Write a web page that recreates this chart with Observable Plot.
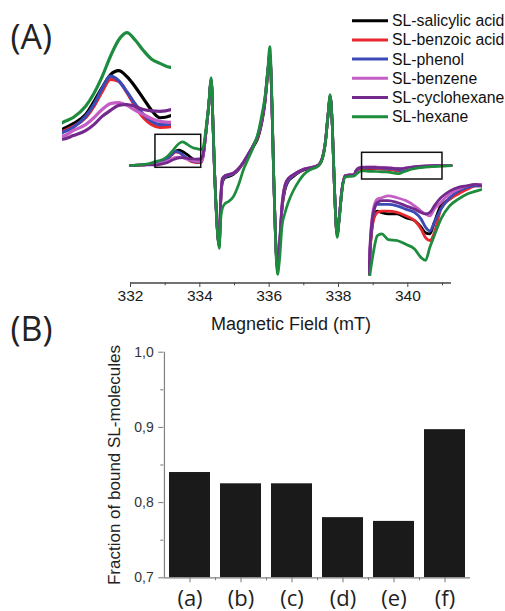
<!DOCTYPE html>
<html><head><meta charset="utf-8">
<script src="https://cdn.jsdelivr.net/npm/d3@7"></script>
<script src="https://cdn.jsdelivr.net/npm/@observablehq/plot@0.6"></script>
<style>
html,body{margin:0;padding:0;background:#fff;}
#root{position:relative;width:505px;height:611px;overflow:hidden;background:#fff;}
#root svg{position:absolute;left:0;}
.panel{position:absolute;font-family:"Open Sans",sans-serif;font-size:34px;line-height:34px;color:#222;white-space:nowrap;}
</style></head><body><div id="root"></div>
<script>
// ---------- Panel A data (EPR spectra, arbitrary intensity units) ----------
const seriesNames = ["SL-salicylic acid","SL-benzoic acid","SL-phenol","SL-benzene","SL-cyclohexane","SL-hexane"];
const seriesColors = ["#000000","#e8282c","#3a4ab6","#c45ec4","#742a8c","#1e8c3e"];
const field = [332.0,332.3,332.55,332.72,332.85,333.0,333.1,333.2,333.3,333.4,333.5,333.6,333.7,333.8,333.9,334.04,334.1,334.17,334.25,334.33,334.38,334.42,334.46,334.52,334.56,334.6,334.65,334.73,334.83,334.97,335.12,335.26,335.4,335.55,335.69,335.79,335.88,335.96,336.02,336.08,336.13,336.18,336.24,336.3,336.37,336.46,336.55,336.7,336.85,337.0,337.2,337.4,337.53,337.62,337.7,337.76,337.82,337.88,337.96,338.03,338.1,338.2,338.3,338.45,338.5,338.56,338.65,338.75,338.9,339.1,339.3,339.5,339.65,339.75,339.85,339.95,340.1,340.3,340.5,340.7,340.9,341.05,341.25];
const salicylic = [-1,-0.5,0, 1.5,2.7,4.7,7.5,10.6,13.4,14.3,13.0,10.8,8.2,5.6,4.0,4.5, 10,30,56,84,40,-3,-36,-72,-82,-40,-18,-13,-12,-10,-5,2,10,18,28,42,62,90,110,60,-10,-70,-104,-82,-45,-25,-17,-12,-8,-5.5,-3.5,-1.5,6,22,50,68,40,-20,-70,-50,-25,-11,-10.5, -10.5,-7.0,-4.75,-3.9,-4.05,-4.2,-4.2,-4.6,-4.9,-5.6,-6.2,-6.3,-5.1,-3.35,-2.65,-1.95,-1.4,-1.1,-1.25, -1];
const benzoic = [-1,-0.5,0, 1.0,2.1,4.0,6.5,9.7,12.4,12.0,9.5,6.5,4.0,2.5,1.9,2.1, 9,30,56,85,40,-3,-36,-72,-82,-40,-17,-12,-11,-9,-4.5,2,10,19,29,43,63,92,111,60,-10,-70,-105,-82,-44,-23,-16,-11,-7.5,-5,-3.2,-1.3,6,22,50,69,40,-20,-71,-50,-25,-11,-10.5, -10.5,-7.2,-4.9,-4.05,-3.9,-3.9,-4.05,-4.4,-4.9,-5.8,-6.7,-7.0,-6.2,-3.7,-2.65,-2.1,-1.6,-1.25,-1.25, -1];
const phenol = [-1,-0.5,0, 0.8,1.9,4.3,6.9,10.4,13.1,12.1,9.7,7.0,4.7,3.2,2.5,2.6, 9,30,56,85,40,-3,-36,-72,-82,-38,-16,-12,-11,-9,-4.5,2.5,10.5,19.5,30,44,64,93,113,60,-10,-70,-105,-81,-43,-23,-16,-11,-7.5,-5,-3.2,-1.3,6,22,50,69,40,-20,-71,-50,-25,-11,-10.5, -10.5,-6.9,-4.2,-3.2,-3.2,-3.2,-3.35,-3.7,-4.05,-4.75,-5.6,-6.0,-5.1,-3.7,-2.5,-1.8,-1.4,-1.25,-1.25, -1];
const benzene = [-1,-0.5,0, 0.0,1.2,2.5,4.0,5.8,7.1,7.3,6.7,5.6,4.7,3.8,3.2,3.0, 9,30,56,84,40,-3,-36,-72,-80,-36,-14,-11,-10,-8.5,-4,2.5,10.5,20,31,46,66,93,110,60,-10,-68,-102,-78,-40,-20,-14,-10,-7,-4.5,-3,-1,6,22,50,68,40,-20,-70,-50,-25,-11,-10.5, -10.4,-6.2,-3.7,-2.65,-2.5,-2.3,-2.5,-2.8,-3.35,-3.9,-4.2,-4.4,-3.7,-3.0,-2.1,-1.6,-1.25,-1.1,-1.1, -1];
const cyclohexane = [-1,-0.5,-0.3, -0.7,0.1,1.2,2.5,4.3,5.6,6.7,6.9,6.5,5.8,5.5,5.4,5.8, 11,31,57,85,40,-3,-36,-72,-80,-36,-14,-11,-10,-8.5,-4,2.5,10.5,20,31,46,66,94,108,60,-10,-68,-102,-78,-40,-20,-14,-10,-7,-4.5,-3,-1,6,22,50,68,40,-20,-70,-50,-25,-11,-10.5, -10.5,-6.5,-4.05,-3.0,-2.8,-2.8,-3.0,-3.35,-3.7,-4.05,-4.2,-4.05,-3.35,-2.5,-1.8,-1.4,-1.25,-1.1,-1.25, -1];
const hexane = [-1,-0.3,1.0, 2.95,4.05,6.5,9.3,13.0,17.4,21.0,22.6,21.0,18.7,16.8,15.9,15.0, 18,34,58,87,42,-3,-38,-74,-84,-56,-44,-39,-37,-32,-20,-5,6,18,33,50,68,95,118,65,-10,-72,-110,-95,-62,-48,-38,-26,-17,-10,-5,-2,5,21,50,70,40,-20,-73,-52,-27,-12.5,-12, -11.5,-10.0,-8.3,-6.5,-6.3,-6.9,-7.0,-7.4,-7.9,-8.8,-9.1,-7.7,-6.5,-4.75,-3.35,-2.65,-2.1,-1.8,-1.6, -1.2];
const seriesValues = [salicylic, benzoic, phenol, benzene, cyclohexane, hexane];

const fieldDomain = [332, 341.26];
const intensityDomain = [-118.5, 164];
const fieldTicks = [332, 334, 336, 338, 340];
const fieldMinorTicks = [333, 335, 337, 339, 341];
const fieldLabel = "Magnetic Field (mT)";
// zoomed regions marked by boxes (field range, intensity range)
const zoomBoxes = [
  {x1: 332.72, x2: 334.04, y1: -3.3, y2: 29.7},
  {x1: 338.68, x2: 341.0, y1: -15, y2: 11.7}
];
const inset1Field = [332.72, 334.04], inset1Intensity = [-1.5, 23.5];
const inset2Field = [338.45, 341.05], inset2Intensity = [-10.8, -0.5];

// ---------- Panel B data ----------
const barCategories = ["(a)","(b)","(c)","(d)","(e)","(f)"];
const barValues = [0.84, 0.825, 0.825, 0.78, 0.775, 0.897];
const fractionDomain = [0.7, 1.0];
const fractionTicks = [0.7, 0.8, 0.9, 1.0];
const fractionMinorTicks = [0.75, 0.85, 0.95];
const fractionLabel = "Fraction of bound SL-molecules";

// ---------- build ----------
const W = 505;
const root = document.getElementById("root");
const rows = seriesNames.flatMap((name, i) => field.map((f, j) => ({name, field: f, value: seriesValues[i][j]})));
const color = {domain: seriesNames, range: seriesColors};
const sans = "'Liberation Sans', Arial, sans-serif";

const main = Plot.plot({
  width: W, height: 340, marginLeft: 130, marginRight: 54, marginTop: 0, marginBottom: 57.5,
  x: {domain: fieldDomain}, y: {domain: intensityDomain, axis: null}, color,
  style: {background: "transparent", color: "#444", fontFamily: sans},
  marks: [
    Plot.ruleY([intensityDomain[0]], {stroke: "#444", strokeWidth: 1.3}),
    Plot.axisX({ticks: fieldTicks, tickSize: 4.5, tickPadding: 2.5, fontSize: 15.5, fill: "#1a1a1a", label: null, tickFormat: d => String(d)}),
    Plot.axisX({ticks: fieldMinorTicks, tickSize: 2.8, text: null, label: null}),
    Plot.text([fieldLabel], {text: d => d, frameAnchor: "bottom", dy: 40.8, fontSize: 18, fill: "#1a1a1a", lineAnchor: "middle"}),
    Plot.line(rows, {x: "field", y: "value", z: "name", stroke: "name", strokeWidth: 2.7, curve: "monotone-x"}),
    Plot.rect(zoomBoxes, {x1: "x1", x2: "x2", y1: "y1", y2: "y2", fill: "none", stroke: "#111", strokeWidth: 1.5})
  ]
});
main.style.top = "0px";
root.appendChild(main);

function inset(xd, yd, mL, mR, mT, mB, sw) {
  const p = Plot.plot({
    width: W, height: 340, marginLeft: mL, marginRight: mR, marginTop: mT, marginBottom: mB,
    x: {domain: xd, axis: null}, y: {domain: yd, axis: null}, color,
    style: {background: "transparent"},
    marks: [Plot.line(rows, {x: "field", y: "value", z: "name", stroke: "name", strokeWidth: sw, curve: "monotone-x", clip: true})]
  });
  p.style.top = "0px";
  root.appendChild(p);
}
inset(inset1Field, inset1Intensity, 62, 334, 28.1, 197.6, 3.2);
inset(inset2Field, inset2Intensity, 368, 23, 178.25, 63.9, 2.8);

// legend
const leg = d3.create("svg").attr("width", 160).attr("height", 130)
  .style("position", "absolute").style("left", "345px").style("top", "8px");
seriesNames.forEach((name, i) => {
  const g = leg.append("g").attr("transform", `translate(0,${12.7 + i * 19.2})`);
  g.append("line").attr("x1", 7).attr("x2", 43).attr("stroke", seriesColors[i]).attr("stroke-width", 3);
  g.append("text").attr("x", 47).attr("dy", "0.35em").attr("fill", "#111")
    .style("font-family", sans).style("font-size", "15.8px").text(name);
});
root.appendChild(leg.node());

// bar chart
const barRows = barCategories.map((c, i) => ({cat: c, value: barValues[i]}));
const bMl = 163.3, bMr = 35;
const step = (W - bMl - bMr) / barCategories.length;
const bar = Plot.plot({
  width: W, height: 281, marginLeft: bMl, marginRight: bMr, marginTop: 21.7, marginBottom: 33.7,
  x: {type: "band", domain: barCategories, paddingInner: 0.2, paddingOuter: 0.1},
  y: {domain: fractionDomain},
  style: {background: "transparent", color: "#777", fontFamily: sans},
  marks: [
    Plot.barY(barRows, {x: "cat", y1: fractionDomain[0], y2: "value", fill: "#1a1a1a"}),
    Plot.ruleY([fractionDomain[0]], {stroke: "#808080", strokeWidth: 1.2}),
    Plot.ruleX([barCategories[0]], {dx: -step / 2, y1: fractionDomain[0], y2: fractionDomain[1], stroke: "#808080", strokeWidth: 1.2}),
    Plot.axisY({ticks: fractionTicks, tickSize: 5, tickPadding: 5, tickFormat: d => d.toFixed(1).replace(".", ","), fontSize: 14, fill: "#333", label: null}),
    Plot.axisY({ticks: fractionMinorTicks, tickSize: 3, text: null, label: null}),
    Plot.axisX({tickSize: 5, tickPadding: 8, fontSize: 22, fontFamily: "'Open Sans', sans-serif", fill: "#222", label: null}),
    Plot.axisX({ticks: barCategories.slice(0, -1), tickSize: 3, text: null, label: null, dx: step / 2}),
    Plot.text([fractionLabel], {text: d => d, frameAnchor: "left", textAnchor: "middle", rotate: -90, dx: -48.8, fontSize: 17, fill: "#222", lineAnchor: "middle"})
  ]
});
bar.style.top = "330px";
root.appendChild(bar);

// panel labels
[["(A)", 10.5, 19], ["(B)", 10.5, 310.5]].forEach(([t, x, y]) => {
  const d = document.createElement("div");
  d.className = "panel"; d.textContent = t;
  d.style.left = x + "px"; d.style.top = y + "px";
  root.appendChild(d);
});
</script></body></html>
